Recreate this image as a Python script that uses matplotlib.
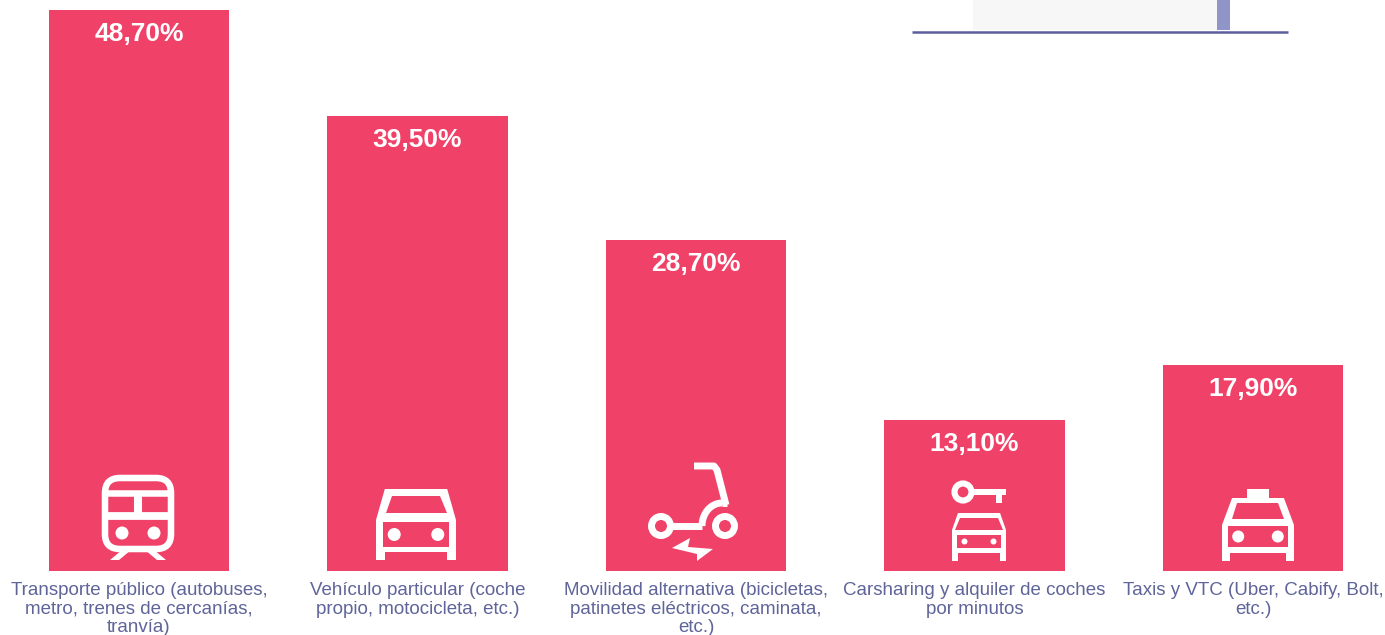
import numpy as np
import matplotlib
matplotlib.use('Agg')
import matplotlib.pyplot as plt
from matplotlib.patches import Circle, Polygon, Rectangle, FancyBboxPatch

# Data
categories = [
    'Transporte público (autobuses,\nmetro, trenes de cercanías,\ntranvía)',
    'Vehículo particular (coche\npropio, motocicleta, etc.)',
    'Movilidad alternativa (bicicletas,\npatinetes eléctricos, caminata,\netc.)',
    'Carsharing y alquiler de coches\npor minutos',
    'Taxis y VTC (Uber, Cabify, Bolt,\netc.)',
]
values = [48.7, 39.5, 28.7, 13.1, 17.9]
value_labels = ['48,70%', '39,50%', '28,70%', '13,10%', '17,90%']

RED = '#f04168'
WHITE = '#ffffff'
TEXT = '#5f6499'
W, H = 1385, 635

plt.rcParams['font.family'] = ['Liberation Sans', 'DejaVu Sans']

fig = plt.figure(figsize=(W / 100, H / 100), dpi=100)

# Bars axes: baseline at y=571, tallest bar reaches y=10
ax = fig.add_axes([0, (H - 571) / H, 1, 561 / H])
x = np.arange(len(values))
ax.bar(x, values, width=0.647, color=RED, zorder=2)
ax.set_xlim(-139 / 278.5, (W - 139) / 278.5)
ax.set_ylim(0, max(values))
ax.set_yticks([])
ax.set_xticks(x)
ax.set_xticklabels(categories, fontsize=13.5, color=TEXT, linespacing=1.12)
ax.tick_params(axis='x', length=0, pad=8)
for s in ax.spines.values():
    s.set_visible(False)

for i, v in enumerate(values):
    ax.annotate(value_labels[i], (i, v), xytext=(0, -17.2), textcoords='offset points',
                ha='center', va='center', color=WHITE, fontsize=19, fontweight='bold',
                zorder=5)

# Overlay in pixel coordinates for the icons and header remnant
ov = fig.add_axes([0, 0, 1, 1], facecolor='none')
ov.set_xlim(0, W)
ov.set_ylim(H, 0)
ov.axis('off')


def ring(cx, cy, r, lw):
    ov.add_patch(Circle((cx, cy), r, fill=False, ec=WHITE, lw=lw))


def dot(cx, cy, r):
    ov.add_patch(Circle((cx, cy), r, fc=WHITE, ec='none'))


def block(x0, y0, x1, y1, color=WHITE):
    ov.add_patch(Rectangle((x0, y0), x1 - x0, y1 - y0, fc=color, ec='none'))


def poly(pts, color=WHITE):
    ov.add_patch(Polygon(pts, closed=True, fc=color, ec='none'))


def stroke(xs, ys, lw):
    ov.plot(xs, ys, color=WHITE, lw=lw, solid_capstyle='butt', solid_joinstyle='round')


def car(x0, x1, top, shoulder, bottom, inset, notch, taper, glass, inner, lamp_r):
    # body silhouette, then red cut-outs for windscreen and grille
    w = x1 - x0
    poly([(x0 + w * taper, top), (x1 - w * taper, top), (x1, shoulder), (x1, bottom),
          (x1 - inset, bottom), (x1 - inset, bottom - notch), (x0 + inset, bottom - notch),
          (x0 + inset, bottom), (x0, bottom), (x0, shoulder)])
    poly(glass, RED)
    block(inner[0], inner[1], inner[2], inner[3], RED)
    ly = (inner[1] + inner[3]) / 2
    dot(inner[0] + (inner[2] - inner[0]) * 0.17, ly, lamp_r)
    dot(inner[2] - (inner[2] - inner[0]) * 0.17, ly, lamp_r)


# Train
ov.add_patch(FancyBboxPatch((105, 478), 66, 71, boxstyle='round,pad=0,rounding_size=15',
                            fc=RED, ec=WHITE, lw=4.7))
stroke([105, 171], [516, 516], 5.6)
stroke([138, 138], [492, 516], 5.8)
stroke([105, 171], [492.5, 492.5], 4.7)
dot(122, 533, 6.5)
dot(154, 533, 6.5)
poly([(110, 560), (122, 550), (131, 550), (119, 560)])
poly([(166, 560), (154, 550), (145, 550), (157, 560)])

# Car
car(376, 456, 489, 520, 560, 9, 8, 0.11,
    [(392, 496), (440, 496), (447, 513), (386, 513)], (383, 522, 449, 547), 6.5)

# Scooter
ring(661, 526, 9.5, 5)
ring(725, 526, 9.5, 5)
stroke([670, 702], [526, 526], 5)
t = np.linspace(0, np.pi / 2, 20)
stroke(702 + 20 * (1 - np.cos(t)), 526 - 23 * np.sin(t), 5)
stroke([722, 727], [503, 503], 5)
stroke([694, 714, 717, 726], [466, 466, 470, 505], 5)
poly([(672, 548), (690, 538), (688, 547), (713, 549), (697, 561), (697, 554)])

# Key and small car
ring(963, 492, 8.5, 4.4)
block(972, 488.5, 1006, 494.5)
block(996, 488.5, 1002, 503)
car(952, 1006, 513, 530, 561, 6, 8, 0.11,
    [(960, 518), (998, 518), (1003, 530), (955, 530)], (957, 535, 1001, 548), 3)

# Taxi
block(1247, 489, 1269, 499)
car(1222, 1294, 498, 525, 561, 8, 8, 0.14,
    [(1237, 503), (1278, 503), (1284, 519), (1232, 519)], (1228, 526, 1288, 547), 6)

# Remnant of header panel at top right
block(973, 0, 1217, 30, '#f7f7f8')
block(1217, 0, 1230, 30, '#9095c8')
ov.plot([912, 1288], [32, 32], color='#5c5f9e', lw=1.8, solid_capstyle='butt')

fig.savefig('out.png', dpi=100)
